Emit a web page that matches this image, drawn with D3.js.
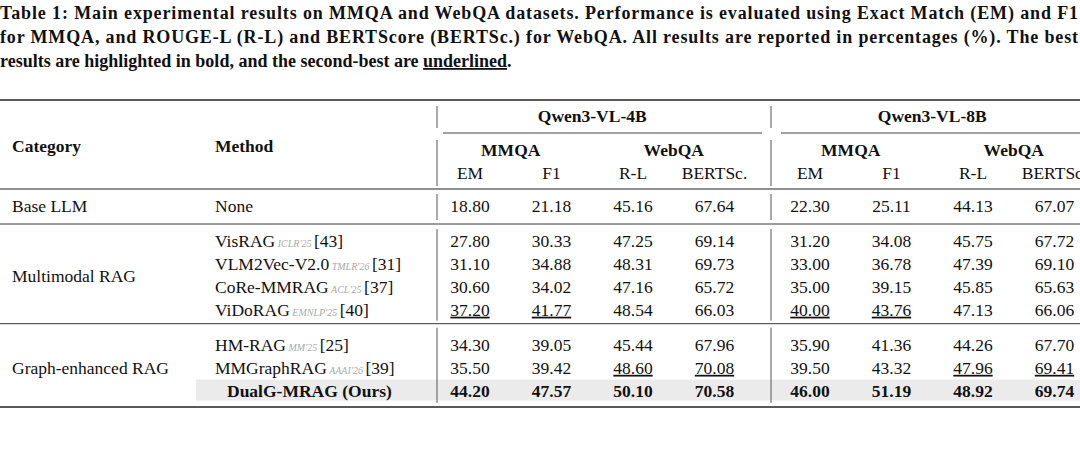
<!DOCTYPE html>
<html>
<head>
<meta charset="utf-8">
<script src="https://d3js.org/d3.v7.min.js"></script>
<style>
  body { margin: 0; background: #fff; }
  svg text { font-family: "Liberation Serif", "DejaVu Serif", serif; fill: #111; }
</style>
</head>
<body>
<div id="table"></div>
<script>
// caption lines
const caption = [
  "Table 1: Main experimental results on MMQA and WebQA datasets. Performance is evaluated using Exact Match (EM) and F1",
  "for MMQA, and ROUGE-L (R-L) and BERTScore (BERTSc.) for WebQA. All results are reported in percentages (%). The best",
  "results are highlighted in bold, and the second-best are "
];
const models = ["Qwen3-VL-4B", "Qwen3-VL-8B"];
const datasets = ["MMQA", "WebQA"];
const metrics = ["EM", "F1", "R-L", "BERTSc."];

const groups = ["Base LLM", "Multimodal RAG", "Graph-enhanced RAG"];
const methods = ["None", "VisRAG", "VLM2Vec-V2.0", "CoRe-MMRAG", "ViDoRAG", "HM-RAG", "MMGraphRAG", "DualG-MRAG (Ours)"];
const venues = ["", "ICLR'25", "TMLR'26", "ACL'25", "EMNLP'25", "MM'25", "AAAI'26", ""];
const refs = ["", "[43]", "[31]", "[37]", "[40]", "[25]", "[39]", ""];
const methodGroup = [0, 1, 1, 1, 1, 2, 2, 2];

// 8 columns: 4B EM, F1, R-L, BERTSc, 8B EM, F1, R-L, BERTSc
const values = [
  [18.80, 21.18, 45.16, 67.64, 22.30, 25.11, 44.13, 67.07],
  [27.80, 30.33, 47.25, 69.14, 31.20, 34.08, 45.75, 67.72],
  [31.10, 34.88, 48.31, 69.73, 33.00, 36.78, 47.39, 69.10],
  [30.60, 34.02, 47.16, 65.72, 35.00, 39.15, 45.85, 65.63],
  [37.20, 41.77, 48.54, 66.03, 40.00, 43.76, 47.13, 66.06],
  [34.30, 39.05, 45.44, 67.96, 35.90, 41.36, 44.26, 67.70],
  [35.50, 39.42, 48.60, 70.08, 39.50, 43.32, 47.96, 69.41],
  [44.20, 47.57, 50.10, 70.58, 46.00, 51.19, 48.92, 69.74]
];

const W = 1080, H = 449;
const svg = d3.select("#table").append("svg").attr("width", W).attr("height", H);

// caption
caption.forEach((t, i) => {
  const tx = svg.append("text").attr("x", 0).attr("y", 19 + i * 24)
    .attr("font-size", 18).attr("font-weight", "bold");
  if (i < 2) tx.attr("textLength", 1078).attr("lengthAdjust", "spacing").text(t);
  else {
    tx.text(t);
    tx.append("tspan").attr("text-decoration", "underline").text("underlined");
    tx.append("tspan").text(".");
  }
});

// column and row positions
const col = i => 470 + i * 81.5 + (i >= 4 ? 14 : 0);
const rowY = i => 206 + i * 22.8 + methodGroup[i] * 12.5;

const fs = 17.5;

// shade best row
svg.append("rect").attr("x", 196).attr("y", rowY(7) - 11).attr("width", W - 196).attr("height", 21)
  .attr("fill", "#ebebeb");

// rules
const rule = (y, w) => svg.append("line").attr("x1", 0).attr("x2", W).attr("y1", y).attr("y2", y)
  .attr("stroke", "#222").attr("stroke-width", w);
rule(100, 1.6);
rule(189, 1);
rule(224, 0.9);
rule(rowY(4) + 14, 0.9);
rule(407, 1.6);
// cmid rules under model names
svg.append("line").attr("x1", 443).attr("x2", 762).attr("y1", 133).attr("y2", 133).attr("stroke", "#444");
svg.append("line").attr("x1", 781).attr("x2", W).attr("y1", 133).attr("y2", 133).attr("stroke", "#444");

// vertical separators
[437, 771].forEach(x => {
  [[106, 128], [140, 186], [194, 220], [229, rowY(4) + 11], [rowY(4) + 18, 403]].forEach(s => {
    svg.append("line").attr("x1", x).attr("x2", x).attr("y1", s[0]).attr("y2", s[1])
      .attr("stroke", "#555").attr("stroke-width", 1);
  });
});

// header
svg.append("text").attr("x", 12).attr("y", 152).attr("font-size", fs).attr("font-weight", "bold").text("Category");
svg.append("text").attr("x", 215).attr("y", 152).attr("font-size", fs).attr("font-weight", "bold").text("Method");
models.forEach((m, mi) => {
  const cx = (col(mi * 4) + col(mi * 4 + 3)) / 2;
  svg.append("text").attr("x", cx).attr("y", 122).attr("text-anchor", "middle")
    .attr("font-size", fs).attr("font-weight", "bold").text(m);
  datasets.forEach((d, di) => {
    const dx = (col(mi * 4 + di * 2) + col(mi * 4 + di * 2 + 1)) / 2;
    svg.append("text").attr("x", dx).attr("y", 156).attr("text-anchor", "middle")
      .attr("font-size", fs).attr("font-weight", "bold").text(d);
  });
  metrics.forEach((t, ti) => {
    svg.append("text").attr("x", col(mi * 4 + ti)).attr("y", 179).attr("text-anchor", "middle")
      .attr("font-size", fs).text(t);
  });
});

// category labels
groups.forEach((g, gi) => {
  const idx = methodGroup.map((v, i) => v === gi ? i : -1).filter(i => i >= 0);
  const y = (rowY(idx[0]) + rowY(idx[idx.length - 1])) / 2;
  svg.append("text").attr("x", 12).attr("y", y + 6).attr("font-size", fs).text(g);
});

// method labels
methods.forEach((m, i) => {
  const last = i === methods.length - 1;
  const t = svg.append("text").attr("x", last ? 227 : 215).attr("y", rowY(i) + 6).attr("font-size", fs)
    .attr("font-weight", last ? "bold" : null);
  t.append("tspan").text(m);
  if (venues[i]) {
    t.append("tspan").attr("font-size", 10).attr("font-style", "italic").style("fill", "#aaa")
      .text(" " + venues[i] + " ");
    t.append("tspan").text(refs[i]);
  }
});

// best / second best per column
const nCols = values[0].length;
for (let c = 0; c < nCols; c++) {
  const sorted = values.map(r => r[c]).sort((a, b) => b - a);
  values.forEach((r, i) => {
    const v = r[c];
    svg.append("text").attr("x", col(c)).attr("y", rowY(i) + 6).attr("text-anchor", "middle")
      .attr("font-size", fs).attr("font-weight", v === sorted[0] ? "bold" : null)
      .attr("text-decoration", v === sorted[1] ? "underline" : null)
      .text(v.toFixed(2));
  });
}
</script>
</body>
</html>
